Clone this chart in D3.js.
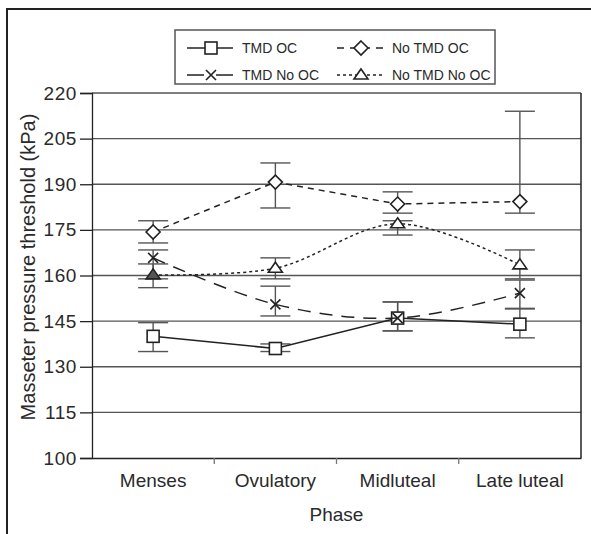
<!DOCTYPE html>
<html lang="en">
<head>
    <meta charset="UTF-8">
    <title>Masseter pressure threshold</title>
    <style>
        body { margin: 0; background: #fff; }
        text { font-family: "Liberation Sans", Arial, sans-serif; fill: #2a2a2a; }
    </style>
</head>
<body>
    <svg id="container" width="591" height="534"></svg>

<script src="https://cdn.jsdelivr.net/npm/d3@7/dist/d3.min.js"></script>
<script>
    // values
    let phases = ["Menses", "Ovulatory", "Midluteal", "Late luteal"]
    let yTicks = [100, 115, 130, 145, 160, 175, 190, 205, 220]

    let tmdOC = [140, 136, 146, 144]
    let tmdOCHi = [144.5, 137.5, 151.3, 149]
    let tmdOCLo = [135, 135, 141.8, 139.5]

    let noTmdOC = [174.3, 190.7, 183.5, 184.3]
    let noTmdOCHi = [178, 197, 187.5, 214]
    let noTmdOCLo = [170.7, 182.2, 180.5, 180.5]

    let tmdNoOC = [165.8, 150.5, 146, 154.2]
    let tmdNoOCHi = [168.4, 156.5, 151.3, 158.5]
    let tmdNoOCLo = [158.9, 146.7, 141.8, 149.2]

    let noTmdNoOC = [160.2, 162.4, 177, 163.5]
    let noTmdNoOCHi = [163.8, 165.8, 178, 168.4]
    let noTmdNoOCLo = [156, 158.9, 173.3, 158.9]

    let series = [
        { name: "TMD OC", vals: tmdOC, hi: tmdOCHi, lo: tmdOCLo, marker: "square", dash: null, legDash: null, curve: d3.curveLinear },
        { name: "No TMD OC", vals: noTmdOC, hi: noTmdOCHi, lo: noTmdOCLo, marker: "diamond", dash: "6,5", legDash: "7,6", curve: d3.curveLinear },
        { name: "TMD No OC", vals: tmdNoOC, hi: tmdNoOCHi, lo: tmdNoOCLo, marker: "cross", dash: "13,9", legDash: "17,12", curve: d3.curveCatmullRom },
        { name: "No TMD No OC", vals: noTmdNoOC, hi: noTmdNoOCHi, lo: noTmdNoOCLo, marker: "triangle", dash: "3,3", legDash: "3,3", curve: d3.curveCatmullRom }
    ]

    let svg = d3.select("#container")
    let plotLeft = 92, plotRight = 581, plotTop = 93, plotBottom = 458
    let font = "'Liberation Sans', Arial, sans-serif"

    let x = d3.scaleBand().domain(phases).range([plotLeft, plotRight])
    let y = d3.scaleLinear().domain([100, 220]).range([plotBottom, plotTop])

    // outer frame (top and left only)
    svg.append("path")
        .attr("d", "M7,534 V9 H591")
        .attr("fill", "none").attr("stroke", "#222").attr("stroke-width", 2)

    // grid
    svg.append("g").selectAll("line").data(yTicks.filter(d => d > 100)).join("line")
        .attr("x1", plotLeft).attr("x2", plotRight)
        .attr("y1", d => y(d)).attr("y2", d => y(d))
        .attr("stroke", "#555").attr("stroke-width", 1.3)

    svg.append("line").attr("x1", plotRight).attr("x2", plotRight).attr("y1", plotTop).attr("y2", plotBottom)
        .attr("stroke", "#222").attr("stroke-width", 1.5)

    // y axis
    let yAxis = d3.axisLeft(y).tickValues(yTicks).tickSize(12).tickPadding(3)
    let yG = svg.append("g").attr("transform", `translate(${plotLeft},0)`).call(yAxis)
    yG.selectAll("line, path").attr("stroke", "#222").attr("stroke-width", 1.3)
    yG.selectAll("text").style("font-size", "19px").attr("fill", "#2a2a2a")
        .style("font-family", font).style("letter-spacing", "0.6px")

    // x axis
    let xAxis = d3.axisBottom(x).tickSize(0).tickPadding(16)
    let xG = svg.append("g").attr("transform", `translate(0,${plotBottom})`).call(xAxis)
    xG.select("path").attr("stroke", "#222").attr("stroke-width", 1.5)
    xG.selectAll("text").style("font-size", "19px").attr("fill", "#2a2a2a")
        .style("font-family", font)
    svg.append("g").selectAll("line").data(phases.slice(1)).join("line")
        .attr("x1", d => x(d)).attr("x2", d => x(d))
        .attr("y1", plotBottom).attr("y2", plotBottom + 6)
        .attr("stroke", "#777").attr("stroke-width", 1.3)

    svg.append("text").attr("x", (plotLeft + plotRight) / 2).attr("y", 521)
        .attr("text-anchor", "middle").style("font-size", "19px").text("Phase")
    svg.append("text").attr("transform", "translate(35,267) rotate(-90)")
        .attr("text-anchor", "middle").style("font-size", "20px")
        .text("Masseter pressure threshold (kPa)")

    let cx = i => x(phases[i]) + x.bandwidth() / 2

    // error bars
    series.forEach(s => {
        let g = svg.append("g").attr("stroke", "#555").attr("stroke-width", 1.4)
        s.vals.forEach((v, i) => {
            g.append("line").attr("x1", cx(i)).attr("x2", cx(i))
                .attr("y1", y(s.hi[i])).attr("y2", y(s.lo[i]))
            ;[s.hi[i], s.lo[i]].forEach(e => {
                g.append("line").attr("x1", cx(i) - 15).attr("x2", cx(i) + 15)
                    .attr("y1", y(e)).attr("y2", y(e))
            })
        })
    })

    function drawMarker(g, type, px, py, fill) {
        let m
        if (type == "square") {
            m = g.append("rect").attr("x", px - 6).attr("y", py - 6).attr("width", 12).attr("height", 12)
        } else if (type == "diamond") {
            m = g.append("path").attr("d", `M${px},${py - 7}L${px + 7},${py}L${px},${py + 7}L${px - 7},${py}Z`)
        } else if (type == "triangle") {
            m = g.append("path").attr("d", `M${px},${py - 6}L${px + 7},${py + 4}L${px - 7},${py + 4}Z`)
        } else {
            m = g.append("path").attr("d", `M${px - 5},${py - 5}L${px + 5},${py + 5}M${px + 5},${py - 5}L${px - 5},${py + 5}`)
        }
        m.attr("fill", fill || "#fff").attr("stroke", "#222").attr("stroke-width", 1.6)
    }

    // lines and markers
    series.forEach(s => {
        let line = d3.line().x((d, i) => cx(i)).y(d => y(d)).curve(s.curve)
        svg.append("path").datum(s.vals).attr("d", line)
            .attr("fill", "none").attr("stroke", "#222").attr("stroke-width", 1.5)
            .attr("stroke-dasharray", s.dash)
        let g = svg.append("g")
        s.vals.forEach((v, i) => {
            // the first triangle is shaded in the original
            let fill = (s.marker == "triangle" && i == 0) ? "#555" : null
            drawMarker(g, s.marker, cx(i), y(v), fill)
        })
    })

    // legend
    let legend = svg.append("g")
    legend.append("rect").attr("x", 175).attr("y", 30).attr("width", 320).attr("height", 54)
        .attr("fill", "#fff").attr("stroke", "#555").attr("stroke-width", 1.5)
    let legPos = [[187, 48], [337, 48], [187, 75], [337, 75]]
    series.forEach((s, j) => {
        let [lx, ly] = legPos[j]
        legend.append("line").attr("x1", lx).attr("x2", lx + 46).attr("y1", ly).attr("y2", ly)
            .attr("stroke", "#222").attr("stroke-width", 1.5).attr("stroke-dasharray", s.legDash)
        drawMarker(legend, s.marker, lx + 24, ly)
        legend.append("text").attr("x", lx + 55).attr("y", ly + 5)
            .style("font-size", "14px").text(s.name)
    })
</script>
</body>
</html>
